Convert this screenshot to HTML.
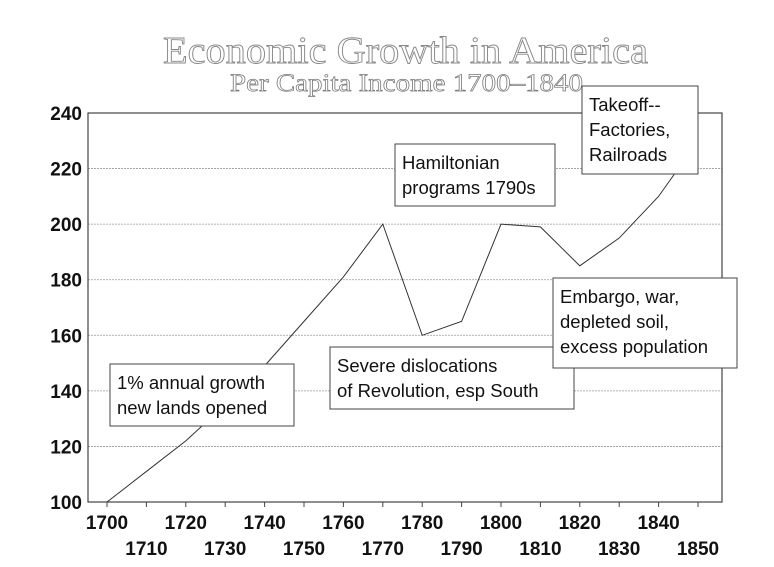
<!DOCTYPE html>
<html><head><meta charset="utf-8"><style>
body{margin:0;background:#fff;width:774px;height:562px;overflow:hidden}
svg text{font-family:"Liberation Sans",sans-serif}
</style></head><body>
<svg id="chart" width="774" height="562" xmlns="http://www.w3.org/2000/svg">
<text x="163" y="63" textLength="485" lengthAdjust="spacingAndGlyphs" style="font-family:'Liberation Serif',serif;font-size:38px;fill:#fff;stroke:#888;stroke-width:0.9">Economic Growth in America</text>
<text x="230" y="91" textLength="353" lengthAdjust="spacingAndGlyphs" style="font-family:'Liberation Serif',serif;font-size:25px;fill:#fff;stroke:#777;stroke-width:0.7">Per Capita Income 1700–1840</text>
<g id="grid"></g><g id="axes"></g>
<polyline id="line" fill="none" stroke="#333" stroke-width="1"/>
<g id="notes"></g>
</svg>
<script>
const years=[1700,1710,1720,1730,1740,1750,1760,1770,1780,1790,1800,1810,1820,1830,1840,1850];
const income=[100,111,122,135,149,165,181,200,160,165,200,199,185,195,210,230];
const yTicks=[100,120,140,160,180,200,220,240];
const xTicks=[1700,1710,1720,1730,1740,1750,1760,1770,1780,1790,1800,1810,1820,1830,1840,1850];
const NS="http://www.w3.org/2000/svg";
const L=88,R=722,T=113,B=502;
const x=v=>107+(v-1700)*3.94;
const y=v=>B-(v-100)*(B-T)/140;
const svg=document.getElementById('chart'),grid=document.getElementById('grid'),axes=document.getElementById('axes');
function mk(tag,attrs,parent,txt){const e=document.createElementNS(NS,tag);for(const k in attrs)e.setAttribute(k,attrs[k]);if(txt!==undefined)e.textContent=txt;parent.appendChild(e);return e;}
const frame=mk('rect',{x:L,y:T,width:R-L,height:B-T,fill:'none',stroke:'#444','stroke-width':1.2},axes);


yTicks.forEach(v=>{
 const g=mk('line',{x1:L,x2:R,y1:y(v),y2:y(v),stroke:'#999','stroke-width':0.8,'stroke-dasharray':'2,1'},grid);
 
 
 const t=mk('text',{x:L-6,y:y(v)+7,'text-anchor':'end','font-size':19,'font-weight':'bold',fill:'#111'},axes,v);
 
 
});
xTicks.forEach((v,i)=>{
 const tk=mk('line',{x1:x(v),x2:x(v),y1:B,y2:B+5,stroke:'#444'},axes);
 
 
 const t=mk('text',{x:x(v),y:i%2?B+53:B+27,'text-anchor':'middle','font-size':19,'font-weight':'bold',fill:'#111'},axes,v);
 
 
});
document.getElementById('line').setAttribute('points',years.map((yr,i)=>x(yr)+','+y(income[i])).join(' '));
const notes=[
 {n:'note-growth',x:110,y:364,w:184,h:62,lines:['1% annual growth','new lands opened']},
 {n:'note-revolution',x:330,y:347,w:244,h:62,lines:['Severe dislocations','of Revolution, esp South']},
 {n:'note-hamiltonian',x:395,y:144,w:160,h:62,lines:['Hamiltonian','programs 1790s']},
 {n:'note-embargo',x:553,y:278,w:184,h:90,lines:['Embargo, war,','depleted soil,','excess population']},
 {n:'note-takeoff',x:582,y:86,w:116,h:88,lines:['Takeoff--','Factories,','Railroads']}
];
notes.forEach(o=>{
 const g=mk('g',{},document.getElementById('notes'));
 
 
 mk('rect',{x:o.x,y:o.y,width:o.w,height:o.h,fill:'#fff',stroke:'#444','stroke-width':1},g);
 o.lines.forEach((s,i)=>mk('text',{x:o.x+7,y:o.y+25+i*25,'font-size':18.5,fill:'#111'},g,s));
});
</script>
</body></html>
